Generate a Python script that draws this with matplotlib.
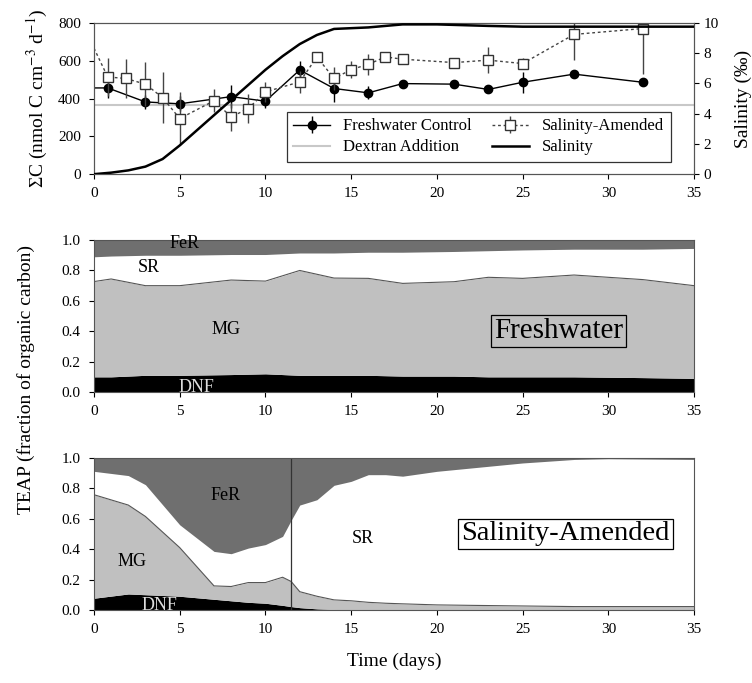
import numpy as np
import matplotlib
matplotlib.use("Agg")
import matplotlib.pyplot as plt

plt.rcParams["font.family"] = ["Liberation Serif", "DejaVu Serif"]
plt.rcParams["mathtext.fontset"] = "stix"

# ---- panel 1: sum of C mineralisation + salinity ----
fw_days = [0, 0.8, 3, 5, 8, 10, 12, 14, 16, 18, 21, 23, 25, 28, 32]
fw_vals = [456, 456, 382, 372, 410, 386, 551, 453, 430, 479, 476, 448, 486, 529, 486]
fw_err = [0, 55, 35, 40, 60, 35, 45, 70, 35, 0, 0, 0, 55, 0, 0]

sa_days = [0, 0.8, 1.85, 3, 4, 5, 7, 8, 9, 10, 12, 13, 14, 15, 16, 17, 18, 21, 23, 25, 28, 32]
sa_vals = [666, 514, 506, 476, 405, 294, 388, 303, 347, 435, 488, 620, 506, 553, 581,
           620, 608, 590, 603, 585, 739, 770]
sa_err = [0, 100, 105, 115, 137, 140, 60, 75, 75, 55, 60, 0, 60, 45, 55,
          0, 0, 20, 70, 30, 137, 240]

sal_days = [0, 1, 2, 3, 4, 5, 6, 7, 8, 9, 10, 11, 12, 13, 14, 16, 18, 20, 23, 25, 35]
sal_vals = [0, 0.1, 0.25, 0.5, 1.0, 1.9, 2.9, 3.9, 4.9, 5.9, 6.9, 7.8, 8.6, 9.2, 9.6,
            9.7, 9.9, 9.9, 9.8, 9.75, 9.75]
dextran = 365

# ---- panel 2: freshwater TEAP (cumulative tops of each layer) ----
fwt_days = [0, 1, 3, 5, 8, 10, 12, 14, 16, 18, 21, 23, 25, 28, 32, 35]
fwt_dnf = [0.10, 0.10, 0.11, 0.11, 0.115, 0.12, 0.11, 0.11, 0.11, 0.105, 0.105, 0.10,
           0.10, 0.10, 0.095, 0.09]
fwt_mg = [0.727, 0.744, 0.70, 0.70, 0.737, 0.73, 0.80, 0.75, 0.748, 0.715, 0.726, 0.755,
          0.748, 0.77, 0.74, 0.70]
fwt_sr = [0.89, 0.895, 0.90, 0.90, 0.905, 0.905, 0.915, 0.915, 0.92, 0.92, 0.925, 0.93,
          0.935, 0.94, 0.94, 0.945]

# ---- panel 3: salinity-amended TEAP ----
sat_days = [0, 2, 3, 5, 7, 8, 9, 10, 11, 11.5, 12, 13, 14, 15, 16, 17, 18, 20, 22, 25,
            28, 30, 35]
sat_dnf = [0.077, 0.105, 0.10, 0.09, 0.07, 0.06, 0.05, 0.044, 0.03, 0.022, 0.015, 0.007,
           0.003, 0.002, 0.001, 0, 0, 0, 0, 0, 0, 0, 0]
sat_mg = [0.758, 0.69, 0.615, 0.41, 0.158, 0.154, 0.18, 0.18, 0.215, 0.187, 0.12, 0.09,
          0.066, 0.06, 0.05, 0.044, 0.04, 0.033, 0.03, 0.026, 0.022, 0.022, 0.022]
sat_sr = [0.912, 0.884, 0.824, 0.56, 0.385, 0.37, 0.407, 0.43, 0.484, 0.59, 0.69, 0.725,
          0.82, 0.846, 0.89, 0.89, 0.88, 0.912, 0.934, 0.967, 0.99, 0.995, 0.99]
salt_day = 11.5

FER = "#6f6f6f"
MG = "#c0c0c0"
FS = 11

fig = plt.figure(figsize=(7.52, 6.83), dpi=100)
L, W = 0.125, 0.798
ax1 = fig.add_axes([L, 0.745, W, 0.2215])
ax2 = fig.add_axes([L, 0.426, W, 0.2225])
ax3 = fig.add_axes([L, 0.107, W, 0.2225])

# top panel
ax1.axhline(dextran, color="#c8c8c8", lw=1.5, label="Dextran Addition", zorder=1)
ax1.errorbar(fw_days, fw_vals, yerr=fw_err, color="black", lw=1, marker="o", ms=6,
             markevery=list(range(1, len(fw_days))), ecolor="black", elinewidth=1,
             capsize=0, label="Freshwater Control", zorder=4)
ax1.errorbar(sa_days, sa_vals, yerr=sa_err, color="#444444", lw=1, ls=(0, (2, 2)),
             marker="s", ms=7, mfc="white", mec="#333333",
             markevery=list(range(1, len(sa_days))), ecolor="#444444", elinewidth=1,
             capsize=0, label="Salinity-Amended", zorder=5)
ax1.set_xlim(0, 35)
ax1.set_ylim(0, 800)
ax1.set_yticks([0, 200, 400, 600, 800])
ax1.set_xticks(range(0, 36, 5))
ax1.set_ylabel(r"ΣC (nmol C cm$^{-3}$ d$^{-1}$)", fontsize=14, labelpad=6)

ax1r = ax1.twinx()
ax1r.plot(sal_days, sal_vals, color="black", lw=1.8, label="Salinity", zorder=3)
ax1r.set_ylim(0, 10)
ax1r.set_yticks([0, 2, 4, 6, 8, 10])
ax1r.set_ylabel("Salinity (‰)", fontsize=14, labelpad=11)
ax1r.tick_params(direction="out", labelsize=FS)

h1, l1 = ax1.get_legend_handles_labels()
h2, l2 = ax1r.get_legend_handles_labels()
hd = dict(zip(l1 + l2, h1 + h2))
order = ["Freshwater Control", "Dextran Addition", "Salinity-Amended", "Salinity"]
leg = ax1r.legend([hd[k] for k in order], order, ncol=2, loc="lower right",
                  bbox_to_anchor=(0.975, 0.025), fontsize=12, frameon=True,
                  fancybox=False, edgecolor="black", handlelength=2.2,
                  columnspacing=1.2, borderpad=0.4, labelspacing=0.3)
leg.get_frame().set_linewidth(0.9)


def teap(ax, days, dnf, mg, sr):
    ax.fill_between(days, 0, dnf, color="black", lw=0)
    ax.fill_between(days, dnf, mg, color=MG, lw=0)
    ax.fill_between(days, mg, sr, color="white", lw=0)
    ax.fill_between(days, sr, 1.0, color=FER, lw=0)
    ax.plot(days, mg, color="#555555", lw=0.8)
    ax.set_xlim(0, 35)
    ax.set_ylim(0, 1.0)
    ax.set_xticks(range(0, 36, 5))
    ax.set_yticks(np.arange(0, 1.01, 0.2))
    ax.yaxis.set_major_formatter(matplotlib.ticker.FormatStrFormatter("%.1f"))


teap(ax2, fwt_days, fwt_dnf, fwt_mg, fwt_sr)
ax2.text(5.3, 0.975, "FeR", fontsize=13, ha="center", va="center")
ax2.text(3.2, 0.82, "SR", fontsize=13, ha="center", va="center")
ax2.text(7.7, 0.41, "MG", fontsize=13, ha="center", va="center")
ax2.text(6.0, 0.03, "DNF", fontsize=13, ha="center", va="center", color="#dddddd")
ax2.text(27.1, 0.4, "Freshwater", fontsize=21, ha="center", va="center",
         bbox=dict(boxstyle="square,pad=0.1", fc=MG, ec="black", lw=0.9))

teap(ax3, sat_days, sat_dnf, sat_mg, sat_sr)
ax3.axvline(salt_day, color="#333333", lw=0.9)
ax3.text(7.7, 0.75, "FeR", fontsize=13, ha="center", va="center")
ax3.text(15.7, 0.47, "SR", fontsize=13, ha="center", va="center")
ax3.text(2.2, 0.32, "MG", fontsize=13, ha="center", va="center")
ax3.text(3.8, 0.03, "DNF", fontsize=13, ha="center", va="center", color="#dddddd")
ax3.text(27.5, 0.5, "Salinity-Amended", fontsize=20.5, ha="center", va="center",
         bbox=dict(boxstyle="square,pad=0.1", fc="white", ec="black", lw=0.9))
ax3.set_xlabel("Time (days)", fontsize=14, labelpad=12)

for ax in (ax1, ax2, ax3):
    ax.tick_params(direction="out", labelsize=FS, pad=6)
    for s in ax.spines.values():
        s.set_color("#555555")
for s in ax1r.spines.values():
    s.set_color("#555555")

fig.text(0.035, 0.445, "TEAP (fraction of organic carbon)", rotation=90,
         fontsize=14, ha="center", va="center")

fig.savefig("out.png", dpi=100)
